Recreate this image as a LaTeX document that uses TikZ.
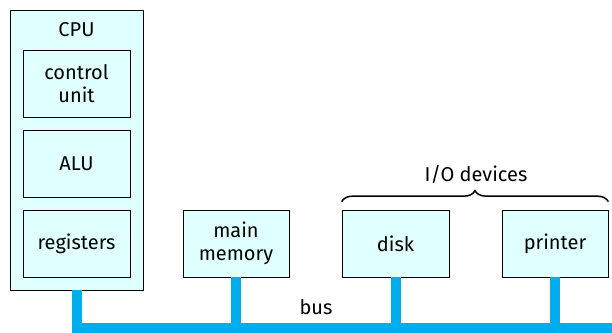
\documentclass[tikz,border=0pt]{standalone}
\usepackage{fontspec}
\setmainfont{Fira Sans}
\usepackage{xcolor}
\usetikzlibrary{decorations.pathreplacing, calc, positioning}

\definecolor{boxfill}{RGB}{224,255,255}
\definecolor{busblue}{RGB}{0,174,239}

\begin{document}
\begin{tikzpicture}[x=1pt, y=1pt, font=\fontsize{20}{23}\selectfont,
                    unit/.style={draw, fill=boxfill, line width=0.7pt, align=center,
                                 minimum width=107pt, minimum height=67pt, inner sep=0pt},
                    busline/.style={draw=busblue, line width=10pt}]
                        \useasboundingbox (0, 0) rectangle (612, 332);

                        \node[unit, minimum width=133pt, minimum height=280pt] (cpu) at (76.5, 182) {};
                        \node (cpulbl) at (76.5, 302) {CPU};
                        \node[unit] (cu) at (76.5, 248.5) {control\\unit};
                        \node[unit] (alu) at (76.5, 168.5) {ALU};
                        \node[unit] (reg) at (76.5, 88.5) {registers};

                        \node[unit, minimum width=106pt] (mem) at (236, 88.5) {main\\memory};
                        \node[unit] (disk) at (395.5, 88.5) {disk};
                        \node[unit, minimum width=106pt] (prn) at (555, 88.5) {printer};

                        \coordinate (busend) at (612, 4.5);
                        \node (buslbl) at (316, 25) {bus};
                        \node (iolbl) at (476, 158) {I/O devices};

                        \draw[busline]
                        (cpu.south) -- (cpu.south |- busend) -- (busend)
                        (mem.south) -- (mem.south |- busend)
                        (disk.south) -- (disk.south |- busend)
                        (prn.south) -- (prn.south |- busend);

                        \draw[line width=1.5pt, decorate, decoration={brace, amplitude=11pt}]
                        ($(disk.north west) + (0, 8)$) -- ($(prn.north east) + (0, 8)$);
                    \end{tikzpicture}
\end{document}
